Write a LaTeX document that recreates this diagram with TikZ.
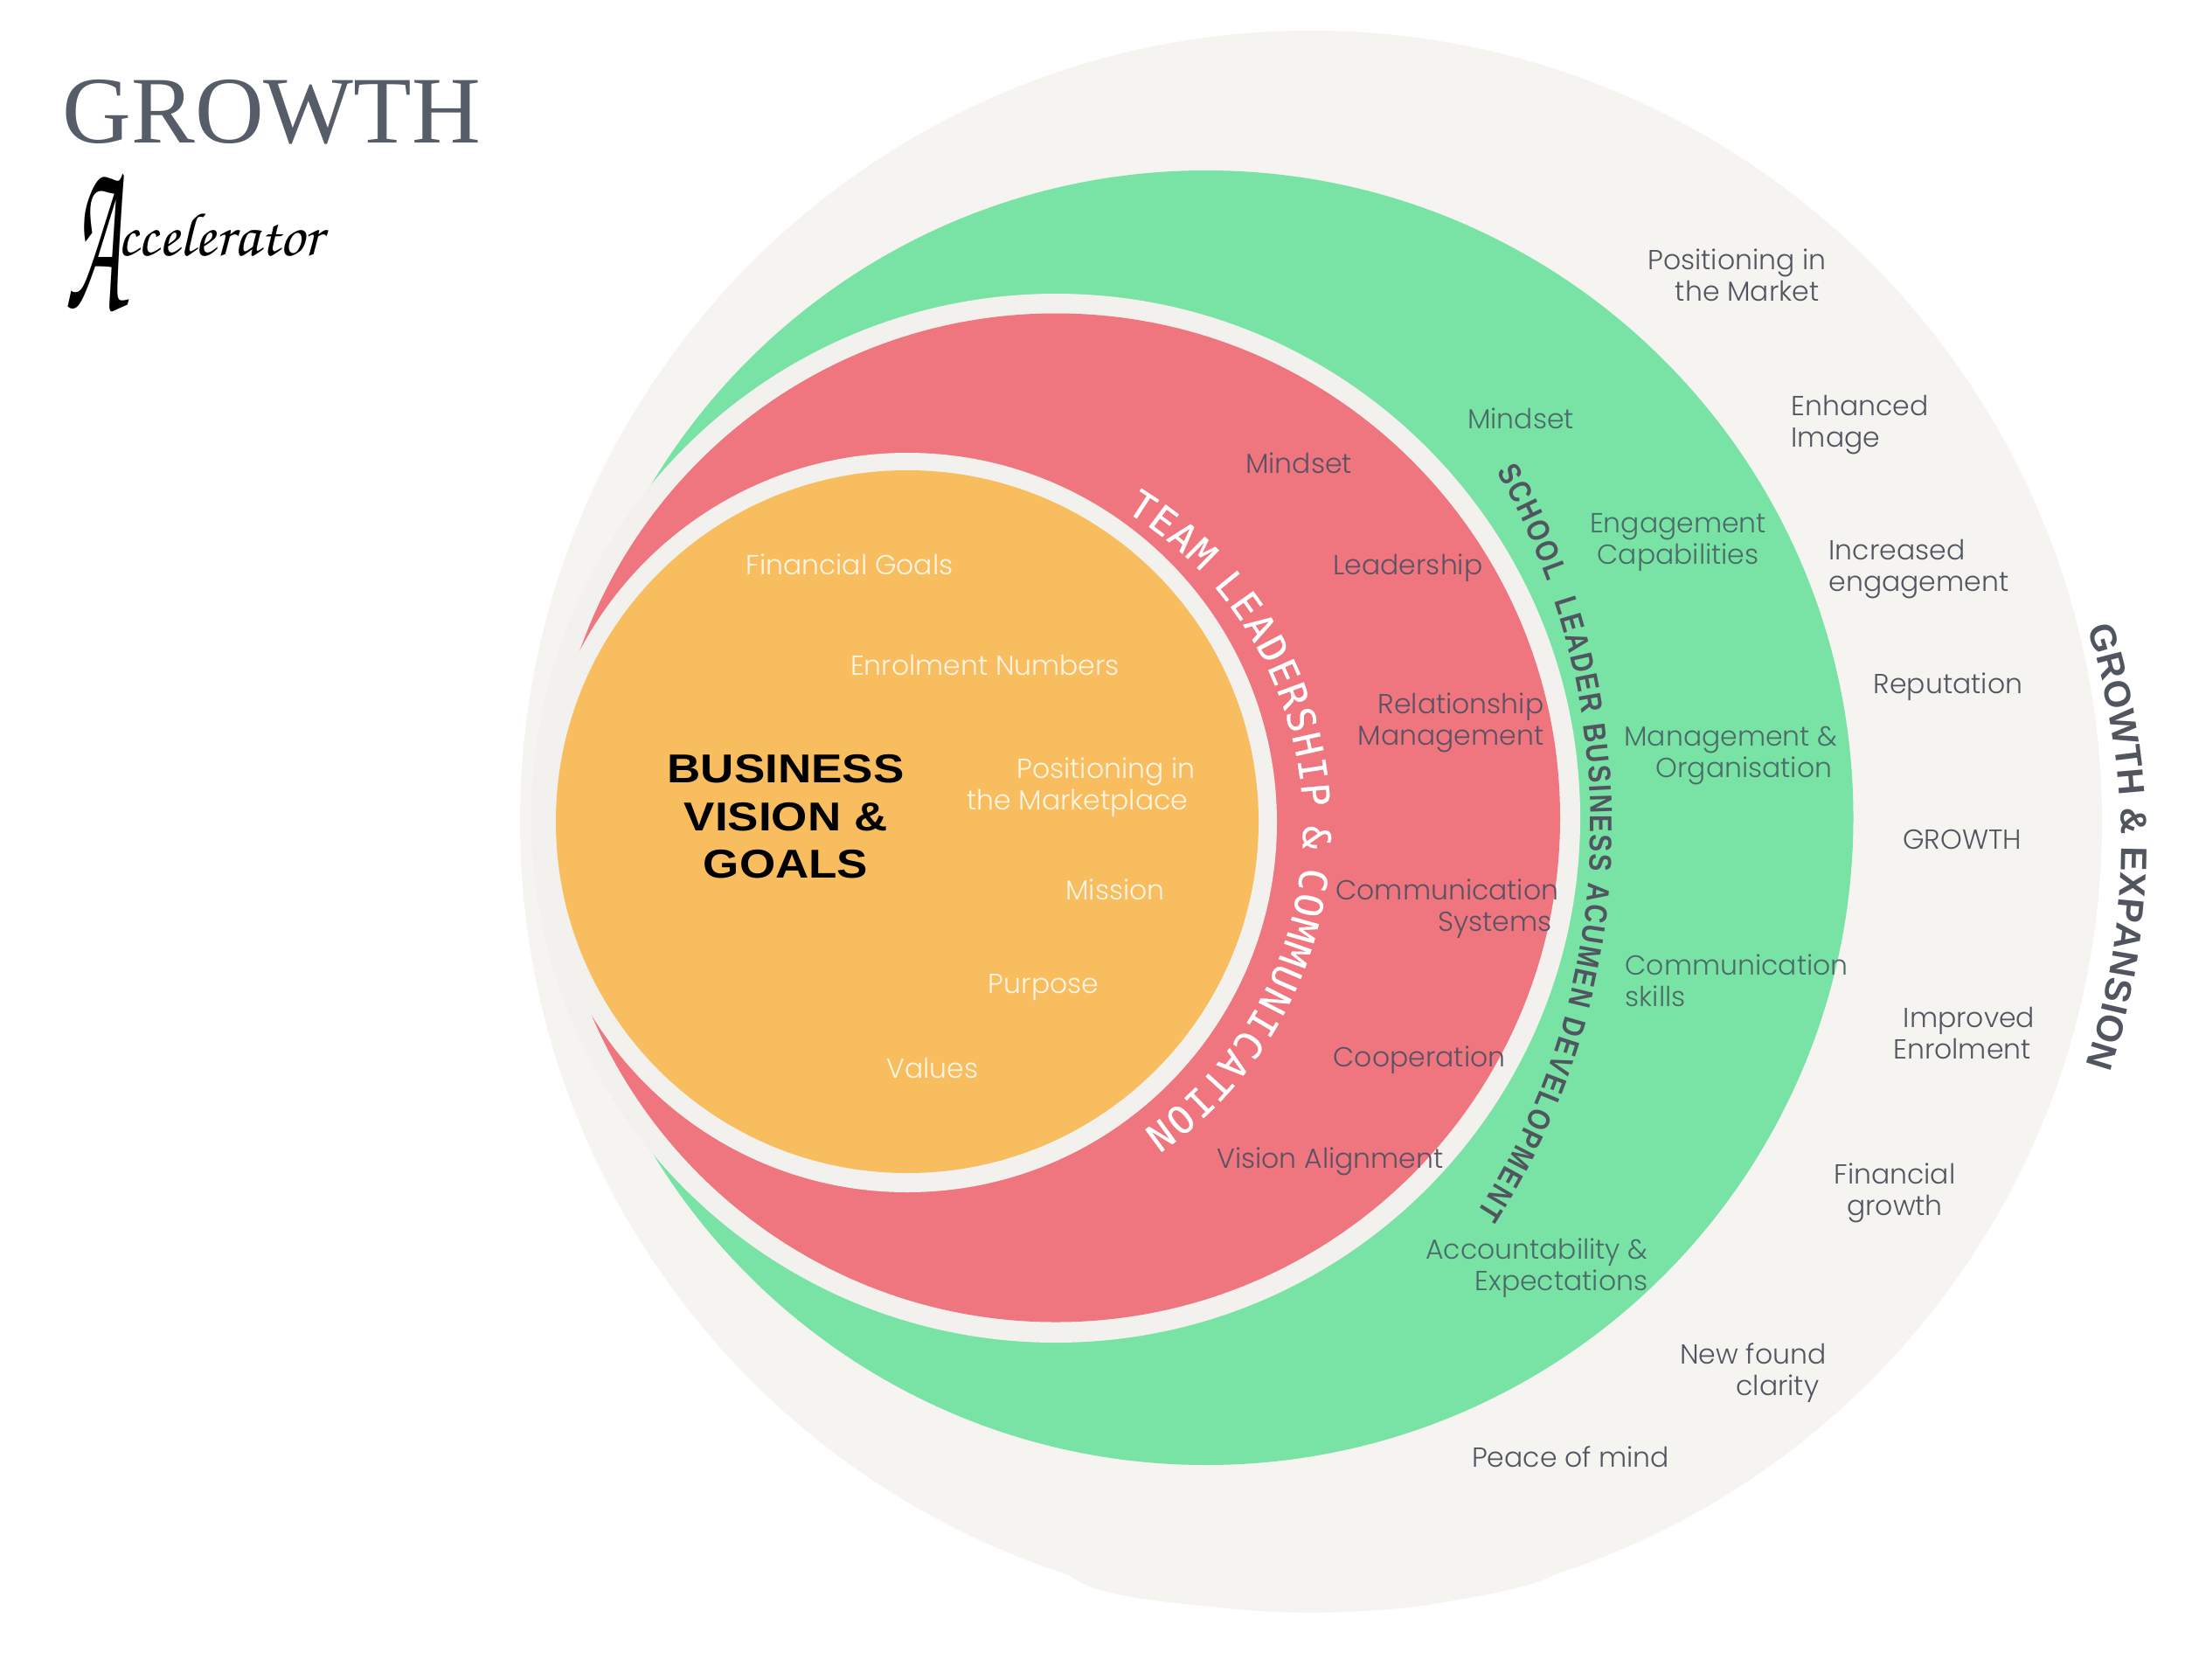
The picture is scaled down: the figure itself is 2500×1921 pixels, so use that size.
\documentclass[tikz,border=0pt]{standalone}
\usepackage{fontspec}
\usepackage{graphicx}
\usetikzlibrary{decorations.text}
\setmainfont{Poppins}[UprightFont=* Light,BoldFont=* Bold]
\newfontfamily\teamfont[FakeBold=0.5]{DejaVu Sans Mono}
\newfontfamily\archfont{Liberation Sans Bold}
\newfontfamily\schoolfont[FakeStretch=0.83]{Liberation Sans Bold}
\newfontfamily\titlefont{Liberation Serif}
\newfontfamily\headfont[FakeStretch=1.15]{Liberation Sans Bold}
\newdimen\pxu \pxu=0.01cm
\newcommand\LL[1]{\strut #1}
\newcommand\nudge[1]{\hspace*{#1\pxu}}
\definecolor{outerc}{HTML}{F6F4F0}
\definecolor{haloc}{HTML}{F3F1EE}
\definecolor{greenc}{HTML}{78E3A4}
\definecolor{redc}{HTML}{EF767E}
\definecolor{orangec}{HTML}{F8BD5E}
\definecolor{tout}{HTML}{50555F}
\definecolor{tgreen}{HTML}{4B6B68}
\definecolor{tred}{HTML}{5A5263}
\definecolor{torange}{HTML}{FFF5E4}
\definecolor{titlec}{HTML}{565C68}
\tikzset{
  lbl/.style={inner sep=0pt,yshift=-1pt,font=\fontsize{8.95}{10.24}\selectfont},
  lo/.style={lbl,text=tout},
  lg/.style={lbl,text=tgreen},
  lr/.style={lbl,text=tred},
  ly/.style={lbl,text=torange},
}
\begin{document}
\begin{tikzpicture}[x=0.01cm,y=-0.01cm]
\useasboundingbox (0,0) rectangle (2500,1921);
% discs
\fill[outerc] (1500,940) circle[radius=905];
\fill[outerc] (1218,1798) .. controls (1245,1822) and (1290,1830) .. (1420,1841) .. controls (1500,1846) and (1580,1845) .. (1640,1835) .. controls (1700,1825) and (1760,1815) .. (1784,1798) -- cycle;
\fill[greenc] (1380,935.5) circle[radius=740.5];
\fill[haloc] (1208,936) circle[radius=600];
\fill[redc] (1208,935.5) circle[radius=577];
\fill[haloc] (1038,941) circle[radius=423];
\fill[orangec] (1038,940) circle[radius=402];
% curved headings
\path[decorate,decoration={text along path,text align={fit to path},
  text={|\teamfont\fontsize{12.4}{13}\selectfont\color{white}|TEAM{\hspace{5pt}}LEADERSHIP{\hspace{5pt}}{\&}{\hspace{5pt}}COMMUNICATION}}]
  (1069,946) ++(-58.8:422) arc[start angle=-58.8,end angle=55.5,radius=422];
\path[decorate,decoration={text along path,text align={fit to path},
  text={|\schoolfont\fontsize{10.2}{12}\selectfont\color{tout}|SCHOOL{\ }{\ }LEADER BUSINESS ACUMEN DEVELOPMENT}}]
  (999,945) ++(-29.6:821) arc[start angle=-29.6,end angle=32.6,radius=821];
\path[decorate,decoration={text along path,text align={fit to path},
  text={|\archfont\fontsize{12}{13}\selectfont\color{tout}|GROWTH {\&} EXPANSION}}]
  (1618,966) ++(-17.8:809) arc[start angle=-17.8,end angle=18.2,radius=809];
% title
\node[inner sep=0pt,anchor=base west,text=titlec] (title) at (71,163) {\resizebox{4.78cm}{!}{\titlefont GROWTH}};
\node[inner sep=0pt,anchor=base west] (accel) at (75,292) {\fontencoding{T1}\fontfamily{pzc}\fontseries{mb}\fontshape{it}\fontsize{20}{22}\selectfont\raisebox{-17.5pt}{\scalebox{1.5}[3.7]{A}}\hspace{-2pt}ccelerator};
% centre
\node[inner sep=0pt,yshift=-2pt,align=center,font=\headfont\fontsize{13.1}{15.6}\selectfont,text=black] (vision) at (899,932) {\LL{BUSINESS}\\\LL{VISION \&}\\\LL{GOALS}};
% orange labels
\node[ly] (a1) at (972,647) {\LL{Financial Goals}};
\node[ly] (a2) at (1127,762) {\LL{Enrolment Numbers}};
\node[ly,anchor=east,align=right] (a3) at (1368,898) {\LL{Positioning in}\\\LL{the Marketplace}\nudge{8}};
\node[ly] (a4) at (1276,1019) {\LL{Mission}};
\node[ly] (a5) at (1194,1126) {\LL{Purpose}};
\node[ly] (a6) at (1067,1223) {\LL{Values}};
% red labels
\node[lr] (b1) at (1486,531) {\LL{Mindset}};
\node[lr] (b2) at (1611,647) {\LL{Leadership}};
\node[lr,anchor=east,align=right] (b3) at (1767,824) {\LL{Relationship}\\\LL{Management}};
\node[lr,anchor=east,align=right] (b4) at (1784,1037) {\LL{Communication}\\\LL{Systems}\nudge{8}};
\node[lr] (b5) at (1624,1210) {\LL{Cooperation}};
\node[lr] (b6) at (1522,1326) {\LL{Vision Alignment}};
% green labels
\node[lg] (c1) at (1740,480) {\LL{Mindset}};
\node[lg,align=center] (c2) at (1920,617) {\LL{Engagement}\\\LL{Capabilities}};
\node[lg,anchor=east,align=right] (c3) at (2103,861) {\LL{Management \&}\\\LL{Organisation}\nudge{6}};
\node[lg,anchor=west,align=left] (c4) at (1859,1123) {\LL{Communication}\\\LL{skills}};
\node[lg,anchor=east,align=right] (c5) at (1886,1448) {\LL{Accountability \&}\\\LL{Expectations}};
% outer labels
\node[lo,anchor=east,align=right] (d1) at (2090,316) {\LL{Positioning in}\\\LL{the Market}\nudge{8}};
\node[lo,anchor=west,align=left] (d2) at (2049,483) {\LL{Enhanced}\\\LL{Image}};
\node[lo,anchor=west,align=left] (d3) at (2092,648) {\LL{Increased}\\\LL{engagement}};
\node[lo] (d4) at (2229,783) {\LL{Reputation}};
\node[lo] (d5) at (2245,961) {\LL{GROWTH}};
\node[lo,align=center] (d6) at (2245,1183) {\LL{\nudge{16}Improved}\\\LL{Enrolment}};
\node[lo,align=center] (d7) at (2168,1362) {\LL{Financial}\\\LL{growth}};
\node[lo,anchor=east,align=right] (d8) at (2090,1568) {\LL{New found}\\\LL{clarity}\nudge{8}};
\node[lo] (d9) at (1797,1668) {\LL{Peace of mind}};
\end{tikzpicture}
\end{document}
